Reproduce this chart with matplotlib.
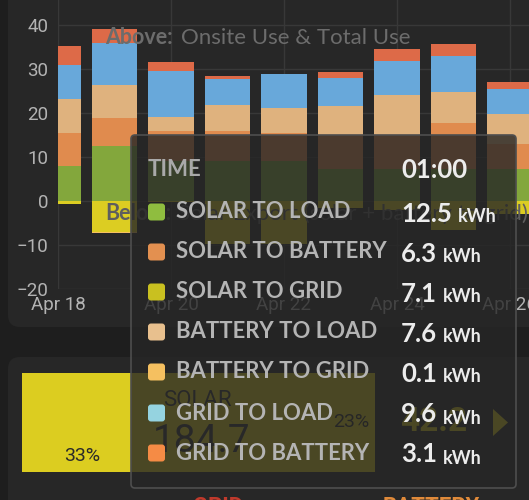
import matplotlib.pyplot as plt
from matplotlib.patches import FancyBboxPatch, Polygon
from matplotlib.text import Annotation

days = ["Apr 18", "Apr 19", "Apr 20", "Apr 21", "Apr 22",
        "Apr 23", "Apr 24", "Apr 25", "Apr 26"]

# kWh per day, stacked above zero
solar_to_load = [8.0, 12.5, 9.1, 9.1, 9.1, 7.3, 7.3, 7.3, 7.2]
solar_to_battery = [7.4, 6.3, 6.8, 6.8, 6.4, 7.8, 7.7, 10.5, 5.7]
battery_to_load = [7.7, 7.6, 3.2, 5.9, 5.6, 6.4, 9.0, 7.0, 6.8]
grid_to_load = [7.8, 9.6, 10.4, 6.0, 7.7, 6.5, 7.8, 8.2, 5.8]
grid_to_battery = [4.3, 3.1, 2.1, 0.6, 0.0, 1.4, 2.8, 2.8, 1.5]
# export, below zero
solar_to_grid = [-0.6, -7.1, -0.2, -9.7, -9.8, -1.5, -2.0, -6.7, -3.0]
battery_to_grid = [0.0, -0.1, 0.0, 0.0, 0.0, 0.0, 0.0, 0.0, 0.0]

tooltip_time = "01:00"
tooltip_labels = ["SOLAR TO LOAD", "SOLAR TO BATTERY", "SOLAR TO GRID",
                  "BATTERY TO LOAD", "BATTERY TO GRID", "GRID TO LOAD",
                  "GRID TO BATTERY"]
tooltip_values = ["12.5", "6.3", "7.1", "7.6", "0.1", "9.6", "3.1"]
tooltip_colors = ["#8fbd3f", "#e39050", "#c9c020", "#e8c08e",
                  "#f5c060", "#95d3e0", "#f58b45"]

PAGE = "#1e1e1e"
CARD = "#272727"

plt.rcParams["font.family"] = ["Roboto", "DejaVu Sans"]

fig = plt.figure(figsize=(5.29, 5.0), dpi=100, facecolor=PAGE)
T = fig.dpi_scale_trans


def px(x):
    return x / 100


def py(y):
    return (500 - y) / 100


# cards
fig.add_artist(FancyBboxPatch((px(8), py(327)), px(600), 4.0,
                              boxstyle="round,pad=0,rounding_size=0.12",
                              transform=T, facecolor=CARD, edgecolor="none",
                              zorder=-1))
fig.add_artist(FancyBboxPatch((px(8), py(600)), px(600), px(243),
                              boxstyle="round,pad=0,rounding_size=0.12",
                              transform=T, facecolor=CARD, edgecolor="none",
                              zorder=-1))

ax = fig.add_axes([58 / 529, 1 - 289 / 500, 471 / 529, 289 / 500])
ax.set_facecolor("none")

x = list(range(len(days)))
w = 0.8
bottom = [0.0] * len(x)
for vals, col in [(solar_to_load, "#83a73c"), (solar_to_battery, "#e08b4e"),
                  (battery_to_load, "#dfb27e"), (grid_to_load, "#68a8da"),
                  (grid_to_battery, "#dd6a48")]:
    ax.bar(x, vals, w, bottom=bottom, color=col, zorder=2)
    bottom = [b + v for b, v in zip(bottom, vals)]

ax.bar(x, solar_to_grid, w, color="#dccd22", zorder=2)
ax.bar(x, battery_to_grid, w, bottom=solar_to_grid, color="#f5c060", zorder=2)

ax.set_xlim(0, 471 / 56.5)
ax.set_ylim(-20, 45.7)
ax.set_yticks(range(-20, 41, 10))
ax.set_xticks(x[::2])
ax.set_xticklabels(days[::2])
ax.grid(True, color="#383838", linewidth=1, zorder=0)
for s in ax.spines.values():
    s.set_visible(False)
ax.tick_params(length=0, colors="#b3b3b3", labelsize=13.5)
ax.tick_params(axis="y", pad=7)
ax.tick_params(axis="x", pad=5)

# overlay captions in the chart
fig.text(px(105), py(38), "Above:", transform=T, fontsize=15.5,
         fontweight="bold", color="#6c6c6c", va="center", family="Lato", zorder=2)
fig.text(px(181), py(38), "Onsite Use & Total Use", transform=T, fontsize=16,
         color="#6c6c6c", va="center", family="Lato", zorder=2)
fig.text(px(105), py(214), "Below:", transform=T, fontsize=15.5,
         fontweight="bold", color="#5e5e5e", va="center", family="Lato", zorder=2)
fig.text(px(178), py(214), "Solar Export (solar + battery to grid)",
         transform=T, fontsize=16, color="#5e5e5e", va="center",
         family="Lato", zorder=2)

# lower card content
fig.add_artist(FancyBboxPatch((px(22), py(472)), px(353), px(99),
                              boxstyle="square,pad=0", transform=T,
                              facecolor="#dccd20", edgecolor="none", zorder=1))
fig.text(px(82), py(456), "33%", transform=T, fontsize=14, color="#2a2a2a",
         ha="center", va="center", zorder=2)
fig.text(px(163), py(401), "SOLAR", transform=T, fontsize=16, color="#333333",
         va="center", zorder=2)
fig.text(px(153), py(442), "184.7", transform=T, fontsize=28, color="#333333",
         va="center", zorder=2)
fig.text(px(333), py(422), "23%", transform=T, fontsize=14, color="#2a2a2a",
         va="center", zorder=2)
fig.text(px(400), py(422), "42.2", transform=T, fontsize=24, color="#dccd20",
         fontweight="bold", va="center", zorder=2)
fig.add_artist(Polygon([(px(493), py(409)), (px(493), py(436)), (px(508), py(422.5))],
                       closed=True, transform=T, facecolor="#dccd20",
                       edgecolor="none", zorder=2))
fig.text(px(193), py(496), "GRID", transform=T, fontsize=16, color="#c0392b",
         fontweight="bold", va="top", zorder=2)
fig.text(px(383), py(496), "BATTERY", transform=T, fontsize=16, color="#e08a3a",
         fontweight="bold", va="top", zorder=2)

# tooltip
fig.add_artist(FancyBboxPatch((px(131), py(488)), px(385), px(353),
                              boxstyle="round,pad=0,rounding_size=0.04",
                              transform=T, facecolor="#262626", alpha=0.8,
                              edgecolor="none", zorder=5))
fig.add_artist(FancyBboxPatch((px(131), py(488)), px(385), px(353),
                              boxstyle="round,pad=0,rounding_size=0.04",
                              transform=T, facecolor="none",
                              edgecolor="#4e4e4e", linewidth=1.2, zorder=5))

fig.text(px(148), py(170), "TIME", transform=T, fontsize=16,
         fontweight="bold", color="#a9a9a9", va="center", family="Lato", zorder=6)
fig.text(px(401), py(170), tooltip_time, transform=T, fontsize=18.5,
         fontweight="bold", color="#ececec", va="center", family="Lato", zorder=6)

row_y = [212, 252, 292, 332, 372, 413, 453]
for yy, lab, val, col in zip(row_y, tooltip_labels, tooltip_values, tooltip_colors):
    fig.add_artist(FancyBboxPatch((px(148), py(yy + 8.5)), px(17), px(17),
                                  boxstyle="round,pad=0,rounding_size=0.03",
                                  transform=T, facecolor=col, edgecolor="none",
                                  zorder=6))
    fig.text(px(176), py(yy), lab, transform=T, fontsize=15.9, fontweight="bold",
             color="#b4b4b4", va="center", family="Lato", zorder=6)
    t = fig.text(px(401), py(yy + 9.5), val, transform=T, fontsize=18.5,
                 fontweight="bold", color="#ececec", va="baseline",
                 family="Lato", zorder=6)
    fig.add_artist(Annotation("kWh", xy=(1, 0), xycoords=t, xytext=(4, 0),
                              textcoords="offset points", fontsize=13,
                              fontweight="bold", color="#ececec", va="bottom",
                              family="Lato", zorder=6))

fig.savefig("out.png", dpi=100, facecolor=PAGE)
